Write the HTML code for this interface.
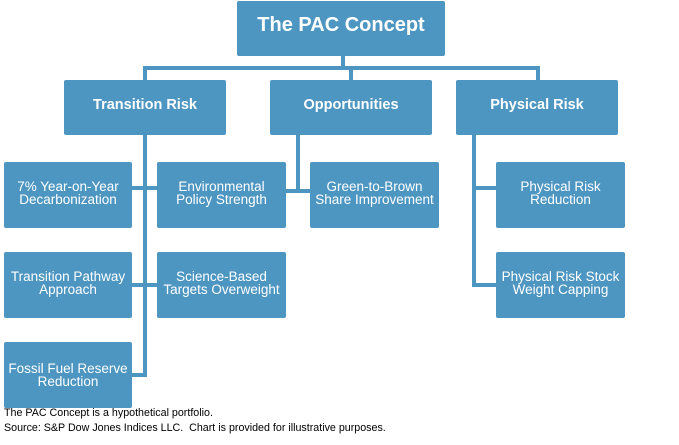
<!DOCTYPE html>
<html><head><style>
body{margin:0;width:679px;height:445px;background:#fff;position:relative;overflow:hidden;font-family:"Liberation Sans",sans-serif}
.b{position:absolute;background:#4d96c2;color:#fff;display:flex;align-items:center;justify-content:center;text-align:center;border-radius:2px;line-height:13px;font-size:13.5px}
.h{font-weight:bold;font-size:14.5px}
.l{position:absolute;background:#4d96c2}
.f{position:absolute;left:4px;font-size:10.7px;color:#000}
</style></head><body>
<div class="l" style="left:341px;top:55px;width:4px;height:14px"></div>
<div class="l" style="left:143px;top:66px;width:397px;height:4px"></div>
<div class="l" style="left:143px;top:66px;width:4px;height:15px"></div>
<div class="l" style="left:349px;top:66px;width:4px;height:15px"></div>
<div class="l" style="left:536px;top:66px;width:4px;height:15px"></div>
<div class="l" style="left:143px;top:134px;width:4px;height:243px"></div>
<div class="l" style="left:130px;top:186px;width:30px;height:4px"></div>
<div class="l" style="left:130px;top:283px;width:30px;height:4px"></div>
<div class="l" style="left:130px;top:373px;width:17px;height:4px"></div>
<div class="l" style="left:296px;top:134px;width:4px;height:59px"></div>
<div class="l" style="left:284px;top:189px;width:28px;height:4px"></div>
<div class="l" style="left:472px;top:134px;width:4px;height:153px"></div>
<div class="l" style="left:472px;top:186px;width:26px;height:4px"></div>
<div class="l" style="left:472px;top:283px;width:26px;height:4px"></div>

<div class="b" style="left:237px;top:1px;width:208px;height:55px;font-weight:bold;font-size:20px;padding-bottom:6px;box-sizing:border-box">The PAC Concept</div>
<div class="b h" style="left:64px;top:80px;width:162px;height:55px;padding-bottom:5px;box-sizing:border-box">Transition Risk</div>
<div class="b h" style="left:270px;top:80px;width:162px;height:55px;padding-bottom:5px;box-sizing:border-box">Opportunities</div>
<div class="b h" style="left:456px;top:80px;width:162px;height:55px;padding-bottom:5px;box-sizing:border-box">Physical Risk</div>

<div class="b" style="left:4px;top:162px;width:128px;height:66px;padding-bottom:5px;box-sizing:border-box">7% Year-on-Year<br>Decarbonization</div>
<div class="b" style="left:157px;top:162px;width:129px;height:66px;padding-bottom:5px;box-sizing:border-box">Environmental<br>Policy Strength</div>
<div class="b" style="left:310px;top:162px;width:129px;height:66px;padding-bottom:5px;box-sizing:border-box">Green-to-Brown<br>Share Improvement</div>
<div class="b" style="left:496px;top:162px;width:129px;height:66px;padding-bottom:5px;box-sizing:border-box">Physical Risk<br>Reduction</div>

<div class="b" style="left:4px;top:252px;width:128px;height:66px;padding-bottom:5px;box-sizing:border-box">Transition Pathway<br>Approach</div>
<div class="b" style="left:157px;top:252px;width:129px;height:66px;padding-bottom:5px;box-sizing:border-box">Science-Based<br>Targets Overweight</div>
<div class="b" style="left:496px;top:252px;width:129px;height:66px;padding-bottom:5px;box-sizing:border-box">Physical Risk Stock<br>Weight Capping</div>

<div class="b" style="left:4px;top:342px;width:128px;height:66px;padding-bottom:1px;box-sizing:border-box">Fossil Fuel Reserve<br>Reduction</div>

<div class="f" style="top:407px">The PAC Concept is a hypothetical portfolio.</div>
<div class="f" style="top:422px">Source: S&amp;P Dow Jones Indices LLC.&nbsp; Chart is provided for illustrative purposes.</div>
</body></html>
